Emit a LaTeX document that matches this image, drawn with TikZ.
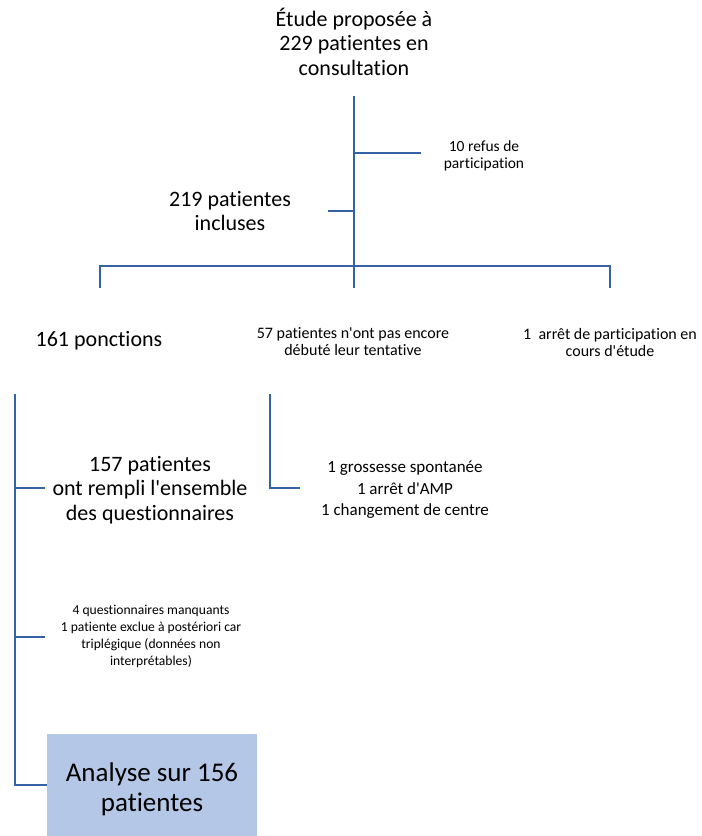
\documentclass[tikz,border=0pt]{standalone}
\usepackage{fontspec}
\setmainfont{Carlito}[Ligatures={TeX,NoCommon}]
\definecolor{linecol}{HTML}{3462A5}
\definecolor{boxfill}{HTML}{B4C7E7}
\newcommand{\ap}{\textquotesingle}
\begin{document}
\begin{tikzpicture}[x=1pt,y=-1pt,
  conn/.style={draw=linecol, line width=2.4pt},
  big/.style={font=\fontsize{22}{24.5}\selectfont, align=center, inner sep=0pt},
  small/.style={font=\fontsize{16}{17}\selectfont, align=center, inner sep=0pt},
  tiny/.style={font=\fontsize{15.5}{16.5}\selectfont, align=center, inner sep=0pt},
  result/.style={fill=boxfill, inner sep=0pt, minimum width=210pt, minimum height=102pt},
  resulttext/.style={font=\fontsize{27}{30}\selectfont, align=center, inner sep=0pt}]
\useasboundingbox (0,0) rectangle (702,836);

% nodes
\node[big] (etude) at (354,41.5) {Étude proposée à\\229 patientes en\\consultation};
\node[tiny] (refus) at (484,156) {10 refus de\\participation};
\node[big] (incl) at (230,211) {219 patientes\\incluses};
\node[big] (ponc) at (99,341) {161 ponctions};
\node[small] (pasenc) at (353,342) {57 patientes n\ap ont pas encore\\débuté leur tentative};
\node[small] (arret) at (610,342) {1\ \ arrêt de participation en\\cours d\ap étude};
\node[big] (rempli) at (150,490) {157 patientes\\ont rempli l\ap ensemble\\des questionnaires};
\node[small, font=\fontsize{17}{21.5}\selectfont] (grossesse) at (405,490) {1 grossesse spontanée\\1 arrêt d\ap AMP\\1 changement de centre};
\node[tiny, font=\fontsize{13.6}{17}\selectfont] (manq) at (151,636) {4 questionnaires manquants\\1 patiente exclue à postériori car\\triplégique (données non\\interprétables)};
\node[result] (box) at (152,785) {};
\node[resulttext] (boxtxt) at (152,789) {Analyse sur 156\\patientes};

% junction coordinates
\coordinate (t0) at (354,96);
\coordinate (t1) at (354,288);
\coordinate (rb) at (421,153);
\coordinate (lb) at (328,211);
\coordinate (h0) at (100,266);
\coordinate (h1) at (610,266);
\coordinate (d0) at (100,288);
\coordinate (d1) at (610,288);
\coordinate (L0) at (15,394);
\coordinate (b1) at (45,488);
\coordinate (b2) at (45,637);
\coordinate (M0) at (270,394);
\coordinate (m1) at (300,488);

% connectors
\draw[conn] (t0) -- (t1);
\draw[conn] (t0 |- rb) -- (rb);
\draw[conn] (lb) -- (lb -| t0);
\draw[conn] (d0) -- (h0) -- (h1) -- (d1);
\draw[conn] (L0) |- (box.west);
\draw[conn] (b1 -| L0) -- (b1);
\draw[conn] (b2 -| L0) -- (b2);
\draw[conn] (M0) |- (m1);
\end{tikzpicture}
\end{document}
